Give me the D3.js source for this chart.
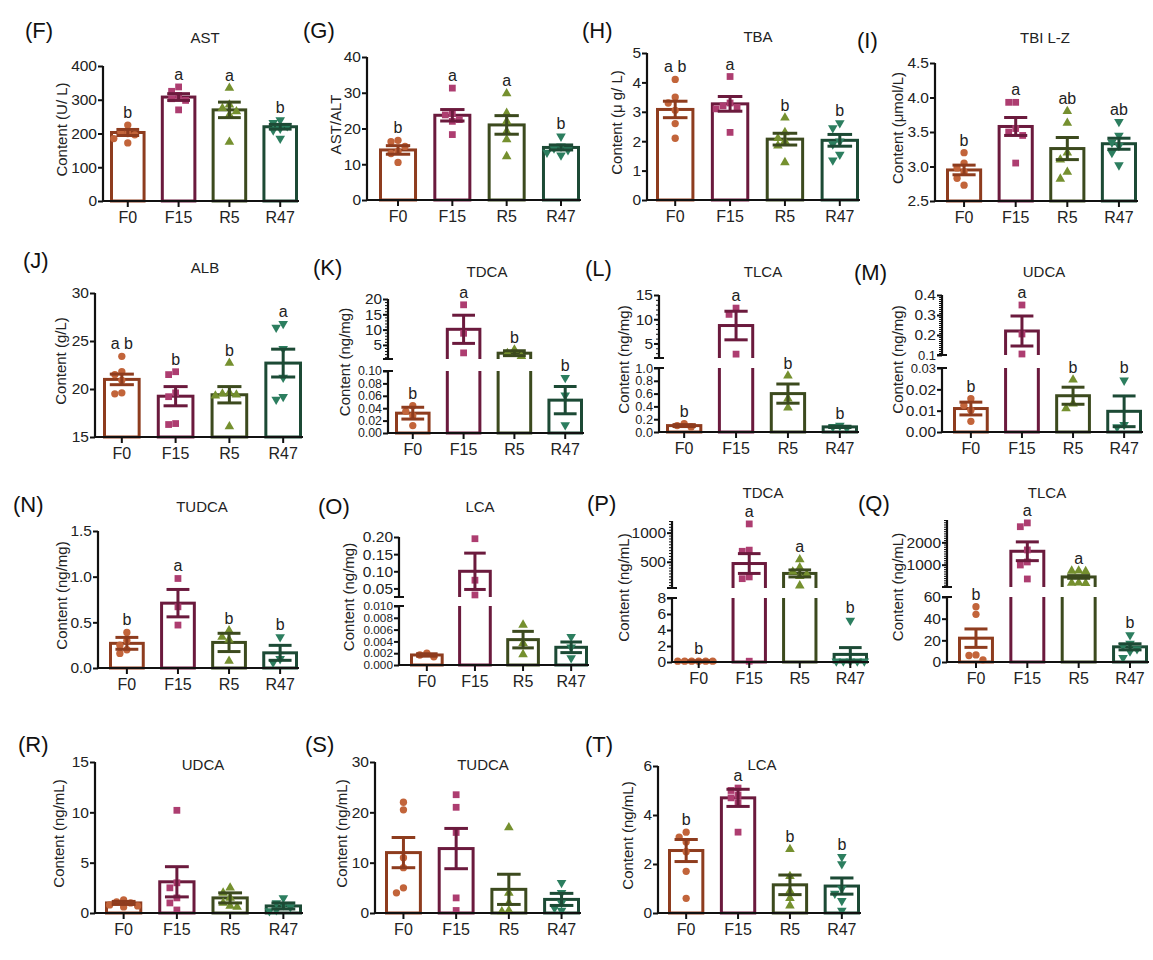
<!DOCTYPE html>
<html><head><meta charset="utf-8">
<script src="https://cdn.jsdelivr.net/npm/d3@7"></script>
<style>body{margin:0;background:#fff}</style>
</head><body><svg id="fig" width="1153" height="960"></svg>
<script>
const groups = ["F0", "F15", "R5", "R47"];

// (F) AST, U/L
const astMean = [203, 308, 270, 220];
const astSem = [9, 10, 23, 7];
const astPts = [[225,205,200,196,185,172],[338,325,313,303,298,270],[335,285,275,265,255,175],[240,232,222,215,210,185]];
const astSig = ["b","a","a","b"];
const astTicks = [0,100,200,300,400];

// (G) AST/ALT
const ratioMean = [14, 23.7, 21, 14.7];
const ratioSem = [1.2, 1.6, 2.6, 0.7];
const ratioPts = [[16.7,16.3,15,13.6,13,10.5],[31.3,24.3,23.8,22.5,22,18.3],[29.8,24.3,22,19.2,16.9,12.2],[17.8,15,14.5,14,13.3,12.5]];
const ratioSig = ["b","a","a","b"];
const ratioTicks = [0,10,20,30,40];

// (H) TBA, µg/L
const tbaMean = [3.08, 3.27, 2.07, 2.03];
const tbaSem = [0.28, 0.25, 0.2, 0.2];
const tbaPts = [[4.1,3.5,3.3,3.05,2.6,2.1],[4.2,3.3,3.2,3.15,3.1,2.3],[2.8,2.3,2.1,2.0,1.85,1.28],[2.62,2.45,2.0,1.9,1.55,1.35]];
const tbaSig = ["a b","a","b","b"];
const tbaTicks = [0,1,2,3,4,5];

// (I) TBIL-Z, µmol/L
const tbilMean = [2.95, 3.58, 3.26, 3.33];
const tbilSem = [0.07, 0.13, 0.16, 0.08];
const tbilPts = [[3.2,3.05,2.98,2.92,2.83,2.73],[3.93,3.93,3.55,3.5,3.45,3.05],[3.8,3.63,3.2,3.1,2.92,2.82],[3.65,3.45,3.35,3.3,3.2,3.02]];
const tbilSig = ["b","a","ab","ab"];
const tbilTicks = [2.5,3.0,3.5,4.0,4.5];

// (J) ALB, g/L
const albMean = [21.0, 19.25, 19.4, 22.7];
const albSem = [0.55, 1.0, 0.85, 1.45];
const albPts = [[23.4,21.8,21.5,20.9,19.6,19.5],[21.8,21.5,19.6,19.2,16.4,16.3],[22.7,19.6,19.5,19.4,19.3,16.1],[26.8,26.4,24.2,21.2,19.2,18.9]];
const albSig = ["a b","b","b","a"];
const albTicks = [15,20,25,30];

// (K) TDCA in tissue, ng/mg
const tdcaTMean = [0.032, 10.1, 2.3, 0.053];
const tdcaTSem = [0.0095, 4.6, 0.8, 0.022];
const tdcaTPts = [[0.044,0.035,0.028,0.012],[18.1,8.8,2.4],[3.4,2.3,1.3],[0.089,0.061,0.013]];
const tdcaTSig = ["b","a","b","b"];
const tdcaTTicksLow = [0,0.02,0.04,0.06,0.08,0.10];
const tdcaTTicksHigh = [5,10,15,20];

// (L) TLCA in tissue, ng/mg
const tlcaTMean = [0.1, 8.7, 0.6, 0.08];
const tlcaTSem = [0.015, 2.95, 0.15, 0.01];
const tlcaTPts = [[0.13,0.1,0.08],[12.3,11.0,2.8],[0.88,0.52,0.38],[0.1,0.08,0.06]];
const tlcaTSig = ["b","a","b","b"];
const tlcaTTicksLow = [0,0.2,0.4,0.6,0.8,1.0];
const tlcaTTicksHigh = [5,10,15];

// (M) UDCA in tissue, ng/mg
const udcaTMean = [0.011, 0.22, 0.017, 0.0097];
const udcaTSem = [0.003, 0.075, 0.004, 0.0072];
const udcaTPts = [[0.0156,0.0125,0.0102,0.005],[0.35,0.205,0.105],[0.0245,0.0133,0.011],[0.0242,0.0034,0.0023]];
const udcaTSig = ["b","a","b","b"];
const udcaTTicksLow = [0,0.01,0.02,0.03];
const udcaTTicksHigh = [0.1,0.2,0.3,0.4];

// (N) TUDCA in tissue, ng/mg
const tudcaTMean = [0.27, 0.71, 0.28, 0.166];
const tudcaTSem = [0.065, 0.15, 0.1, 0.082];
const tudcaTPts = [[0.39,0.3,0.25,0.2,0.16],[0.98,0.67,0.47],[0.41,0.34,0.31,0.077],[0.34,0.1,0.06]];
const tudcaTSig = ["b","a","b","b"];
const tudcaTTicks = [0,0.5,1.0,1.5];

// (O) LCA in tissue, ng/mg
const lcaTMean = [0.0017, 0.1, 0.0043, 0.003];
const lcaTSem = [0.0002, 0.053, 0.0014, 0.0009];
const lcaTPts = [[0.002,0.0017,0.0014],[0.195,0.074,0.031],[0.0068,0.0037,0.0018],[0.0048,0.003,0.0012]];
const lcaTTicksLow = [0,0.002,0.004,0.006,0.008,0.010];
const lcaTTicksHigh = [0.05,0.10,0.15,0.20];

// (P) TDCA in serum, ng/mL
const tdcaSMean = [0.1, 470, 300, 0.95];
const tdcaSSem = [0.02, 170, 60, 0.85];
const tdcaSPts = [[0.1,0.1,0.1,0.1,0.1,0.1],[1150,700,680,240,210,0.1],[540,400,330,280,250,90],[5.2,0.1,0.1,0.1,0.1,0.1]];
const tdcaSSig = ["b","a","a","b"];
const tdcaSTicksLow = [0,2,4,6,8];
const tdcaSTicksHigh = [500,1000];

// (Q) TLCA in serum, ng/mL
const tlcaSMean = [22, 1600, 450, 14];
const tlcaSSem = [8.5, 420, 60, 2.8];
const tlcaSPts = [[51,44,6.5,6,2],[2870,2700,1660,1120,985,360],[730,720,700,190,180,170],[25,17,15,12,10,4]];
const tlcaSSig = ["b","a","a","b"];
const tlcaSTicksLow = [0,20,40,60];
const tlcaSTicksHigh = [1000,2000];

// (R) UDCA in serum, ng/mL
const udcaSMean = [1.0, 3.1, 1.5, 0.7];
const udcaSSem = [0.15, 1.5, 0.5, 0.3];
const udcaSPts = [[1.3,1.1,1.0,0.8,0.7,0.6],[10.2,3.0,2.5,1.5,1.0,0.3],[2.5,2.0,1.5,1.0,0.7,0.6],[1.5,1.0,0.8,0.6,0.3,0.2]];
const udcaSTicks = [0,5,10,15];

// (S) TUDCA in serum, ng/mL
const tudcaSMean = [12, 12.8, 4.7, 2.7];
const tudcaSSem = [3, 4, 3, 1.2];
const tudcaSPts = [[22,20.5,11,9,5,4],[23.5,21,16,3,0.5],[17,4,2,0.5,0.3],[6,4,2,1,0.5]];
const tudcaSTicks = [0,10,20,30];

// (T) LCA in serum, ng/mL
const lcaSMean = [2.55, 4.7, 1.15, 1.1];
const lcaSSem = [0.45, 0.35, 0.4, 0.33];
const lcaSPts = [[3.3,3.1,2.9,2.5,1.7,0.6],[5.1,5.0,4.8,4.7,4.5,3.3],[2.6,1.5,0.9,0.6,0.3],[2.3,2.0,1.0,0.8,0.5,0.1]];
const lcaSSig = ["b","a","b","b"];
const lcaSTicks = [0,2,4,6];

// ---- styling ----
const FONT = "Arial, 'Liberation Sans', sans-serif";
const lineCol = ["#8e3c1e", "#6b1a3d", "#3c4a1e", "#1c4a35"];
const dotCol = ["#c2643a", "#ad3d70", "#75902f", "#2c7e5f"];
const symbols = [
  d3.symbol().type(d3.symbolCircle).size(42)(),
  d3.symbol().type(d3.symbolSquare).size(46)(),
  d3.symbol().type(d3.symbolTriangle).size(40)(),
  d3.symbol().type(d3.symbolTriangle).size(40)()
];

// panel layout: axis position, bar span, label offsets, segments (bottom first)
const panels = [
  { tag:"(F)", tagXY:[25,38], title:"AST", titleXY:[205,43], ylab:"Content (U/ L)", lab:41,
    mean:astMean, sem:astSem, pts:astPts, sig:astSig, ax:103, x0:110, x1:298,
    segs:[{dom:[0,400], rng:[201,66], ticks:astTicks, fmt:"d"}] },
  { tag:"(G)", tagXY:[303,38], title:"", titleXY:[0,0], ylab:"AST/ALT", lab:31,
    mean:ratioMean, sem:ratioSem, pts:ratioPts, sig:ratioSig, ax:367, x0:379, x1:580,
    segs:[{dom:[0,40], rng:[200,57], ticks:ratioTicks, fmt:"d"}] },
  { tag:"(H)", tagXY:[582,38], title:"TBA", titleXY:[758,42], ylab:"Content (\u03bc g/ L)", lab:30,
    mean:tbaMean, sem:tbaSem, pts:tbaPts, sig:tbaSig, ax:647, x0:656, x1:859,
    segs:[{dom:[0,5], rng:[200,53], ticks:tbaTicks, fmt:"d"}] },
  { tag:"(I)", tagXY:[857,48], title:"TBI L-Z", titleXY:[1045,43], ylab:"Content (\u03bcmol/L)", lab:37,
    mean:tbilMean, sem:tbilSem, pts:tbilPts, sig:tbilSig, ax:935, x0:946, x1:1137,
    segs:[{dom:[2.5,4.5], rng:[201,63], ticks:tbilTicks, fmt:".1f"}] },
  { tag:"(J)", tagXY:[23,268], title:"ALB", titleXY:[205,273], ylab:"Content (g/L)", lab:34,
    mean:albMean, sem:albSem, pts:albPts, sig:albSig, ax:95, x0:103, x1:302,
    segs:[{dom:[15,30], rng:[437,293], ticks:albTicks, fmt:"d"}] },
  { tag:"(K)", tagXY:[313,275], title:"TDCA", titleXY:[487,277], ylab:"Content (ng/mg)", lab:43,
    mean:tdcaTMean, sem:tdcaTSem, pts:tdcaTPts, sig:tdcaTSig, ax:388, x0:395, x1:583,
    segs:[{dom:[0,0.1], rng:[433,371], ticks:tdcaTTicksLow, fmt:".2f"},
          {dom:[0.4,20], rng:[359,299], ticks:tdcaTTicksHigh, fmt:"d", minor:1}] },
  { tag:"(L)", tagXY:[585,276], title:"TLCA", titleXY:[763,277], ylab:"Content (ng/mg)", lab:35,
    mean:tlcaTMean, sem:tlcaTSem, pts:tlcaTPts, sig:tlcaTSig, ax:659, x0:666, x1:858,
    segs:[{dom:[0,1], rng:[432,368], ticks:tlcaTTicksLow, fmt:".1f"},
          {dom:[2,15], rng:[358,295], ticks:tlcaTTicksHigh, fmt:"d", minor:1}] },
  { tag:"(M)", tagXY:[854,280], title:"UDCA", titleXY:[1044,277], ylab:"Content (ng/mg)", lab:44,
    mean:udcaTMean, sem:udcaTSem, pts:udcaTPts, sig:udcaTSig, ax:942, x0:953, x1:1142,
    segs:[{dom:[0,0.03], rng:[432,368], ticks:udcaTTicksLow, fmt:".2f"},
          {dom:[0.1,0.4], rng:[355,295], ticks:udcaTTicksHigh, fmt:".1f", minor:0.01}] },
  { tag:"(N)", tagXY:[13,512], title:"TUDCA", titleXY:[202,512], ylab:"Content (ng/mg)", lab:36,
    mean:tudcaTMean, sem:tudcaTSem, pts:tudcaTPts, sig:tudcaTSig, ax:98, x0:109, x1:298,
    segs:[{dom:[0,1.5], rng:[668,531], ticks:tudcaTTicks, fmt:".1f"}] },
  { tag:"(O)", tagXY:[318,514], title:"LCA", titleXY:[480,512], ylab:"Content (ng/mg)", lab:50,
    mean:lcaTMean, sem:lcaTSem, pts:lcaTPts, sig:null, ax:399, x0:410, x1:588,
    segs:[{dom:[0,0.01], rng:[665,606], ticks:lcaTTicksLow, fmt:".3f"},
          {dom:[0.025,0.2], rng:[597,537], ticks:lcaTTicksHigh, fmt:".2f"}] },
  { tag:"(P)", tagXY:[587,511], title:"TDCA", titleXY:[763,498], ylab:"Content (ng/mL)", lab:48,
    mean:tdcaSMean, sem:tdcaSSem, pts:tdcaSPts, sig:tdcaSSig, ax:672, x0:681, x1:868,
    segs:[{dom:[0,8], rng:[662,598], ticks:tdcaSTicksLow, fmt:"d"},
          {dom:[50,1200], rng:[588,521], ticks:tdcaSTicksHigh, fmt:"d", minor:50}] },
  { tag:"(Q)", tagXY:[858,511], title:"TLCA", titleXY:[1047,498], ylab:"Content (ng/mL)", lab:49,
    mean:tlcaSMean, sem:tlcaSSem, pts:tlcaSPts, sig:tlcaSSig, ax:947, x0:958, x1:1148,
    segs:[{dom:[0,60], rng:[662,597], ticks:tlcaSTicksLow, fmt:"d"},
          {dom:[0,3000], rng:[587,520], ticks:tlcaSTicksHigh, fmt:"d", minor:100}] },
  { tag:"(R)", tagXY:[18,752], title:"UDCA", titleXY:[203,770], ylab:"Content (ng/mL)", lab:36,
    mean:udcaSMean, sem:udcaSSem, pts:udcaSPts, sig:null, ax:95, x0:105, x1:302,
    segs:[{dom:[0,15], rng:[913,762], ticks:udcaSTicks, fmt:"d"}] },
  { tag:"(S)", tagXY:[305,752], title:"TUDCA", titleXY:[483,770], ylab:"Content (ng/mL)", lab:33,
    mean:tudcaSMean, sem:tudcaSSem, pts:tudcaSPts, sig:null, ax:375, x0:385, x1:580,
    segs:[{dom:[0,30], rng:[913,762], ticks:tudcaSTicks, fmt:"d"}] },
  { tag:"(T)", tagXY:[585,752], title:"LCA", titleXY:[762,770], ylab:"Content (ng/mL)", lab:30,
    mean:lcaSMean, sem:lcaSSem, pts:lcaSPts, sig:lcaSSig, ax:658, x0:668, x1:860,
    segs:[{dom:[0,6], rng:[913,766], ticks:lcaSTicks, fmt:"d"}] }
];

const svg = d3.select("#fig");
let clipCount = 0;

// spread overlapping markers sideways, keeping each group centred
function swarm(ys, d) {
  const order = ys.map((y, i) => i).sort((a, b) => ys[a] - ys[b]);
  const placed = [], off = new Array(ys.length).fill(0);
  for (const i of order) {
    for (let k = 0; k < 30; k++) {
      const dx = k === 0 ? 0 : (k % 2 ? -1 : 1) * Math.ceil(k / 2) * d;
      if (placed.every(p => Math.hypot(p.x - dx, p.y - ys[i]) >= d)) {
        off[i] = dx; placed.push({x: dx, y: ys[i]}); break;
      }
    }
  }
  return off;
}

function drawPanel(p) {
  const g = svg.append("g");
  const x = d3.scaleBand().domain(groups).range([p.x0, p.x1]).paddingInner(0.3).paddingOuter(0);
  const bw = x.bandwidth();
  const cap = bw * 0.32;
  const segs = p.segs.map(s => Object.assign({}, s, {y: d3.scaleLinear().domain(s.dom).range(s.rng)}));
  const nS = segs.length;
  const base = segs[0].rng[0];
  const segOf = v => segs.find(s => v <= s.dom[1]) || segs[nS - 1];
  const cx = gr => x(gr) + bw / 2;

  segs.forEach((s, i) => {
    s.clip = "seg" + (clipCount++);
    const top = i === nS - 1 ? s.rng[1] - 40 : s.rng[1];
    const bot = i === 0 ? s.rng[0] + 3 : s.rng[0];
    svg.append("clipPath").attr("id", s.clip).append("rect")
      .attr("x", p.ax + 1).attr("y", top).attr("width", p.x1 - p.ax + 12).attr("height", bot - top);
  });

  // bars (open-ended where they cross an axis break)
  segs.forEach((s, i) => {
    const layer = g.append("g").attr("clip-path", `url(#${s.clip})`);
    groups.forEach((gr, j) => {
      const m = p.mean[j];
      if (i > 0 && m <= segs[i - 1].dom[1]) return;
      const yTop = m > s.dom[1] ? s.rng[1] - 10 : s.y(m);
      const yBot = i === 0 ? s.y(s.dom[0]) : s.rng[0] + 10;
      layer.append("rect").attr("x", x(gr) + 1.5).attr("width", bw - 3)
        .attr("y", yTop).attr("height", Math.max(0.5, yBot - yTop))
        .attr("fill", "#fff").attr("stroke", lineCol[j]).attr("stroke-width", 3);
    });
  });

  // individual values
  groups.forEach((gr, j) => {
    const ys = p.pts[j].map(v => segOf(v).y(v));
    const offs = swarm(ys, 7);
    ys.forEach((yy, k) => {
      g.append("path").attr("d", symbols[j])
        .attr("transform", `translate(${cx(gr) + offs[k]},${yy})` + (j === 3 ? " rotate(180)" : ""))
        .attr("fill", dotCol[j]);
    });
  });

  // mean ± SEM
  groups.forEach((gr, j) => {
    const m = p.mean[j], e = p.sem[j], s = segOf(m);
    const c = cx(gr);
    const lay = g.append("g").attr("clip-path", `url(#${s.clip})`)
      .attr("stroke", lineCol[j]).attr("stroke-width", 3);
    const y1 = s.y(m - e), y2 = s.y(m + e);
    lay.append("line").attr("x1", c).attr("x2", c).attr("y1", y1).attr("y2", y2);
    [y1, y2].forEach(yy => lay.append("line").attr("x1", c - cap).attr("x2", c + cap).attr("y1", yy).attr("y2", yy));
  });

  // significance letters
  if (p.sig) groups.forEach((gr, j) => {
    const ys = p.pts[j].map(v => segOf(v).y(v));
    const s = segOf(p.mean[j]);
    const top = Math.min(...ys, s.y(p.mean[j] + p.sem[j]));
    g.append("text").attr("x", cx(gr)).attr("y", top - 7).attr("text-anchor", "middle")
      .attr("font-family", FONT).attr("font-size", 16).attr("fill", "#222").text(p.sig[j]);
  });

  // y axis segments; each tick label is sized to the room left by its neighbours
  const allTickY = [];
  segs.forEach(s => s.ticks.forEach(t => allTickY.push(s.y(t))));
  segs.forEach((s, i) => {
    const axG = g.append("g").attr("transform", `translate(${p.ax},0)`);
    axG.call(d3.axisLeft(s.y).tickValues(s.ticks).tickFormat(d3.format(s.fmt)).tickSize(5).tickPadding(1));
    axG.select(".domain").remove();
    axG.selectAll(".tick line").attr("stroke", "#111").attr("stroke-width", 2);
    axG.selectAll(".tick text").attr("font-family", FONT).attr("fill", "#222")
      .attr("font-size", t => {
        const yy = s.y(t);
        const room = d3.min(allTickY.filter(v => Math.abs(v - yy) > 0.5), v => Math.abs(v - yy));
        return Math.min(15.5, room);
      });
    if (s.minor) {
      const st = s.minor;
      const vals = d3.range(Math.ceil(s.dom[0] / st - 1e-9) * st, s.dom[1] + st / 2, st);
      const mG = g.append("g").attr("transform", `translate(${p.ax},0)`);
      mG.call(d3.axisLeft(s.y).tickValues(vals).tickFormat("").tickSize(3));
      mG.select(".domain").remove();
      mG.selectAll(".tick line").attr("stroke", "#111").attr("stroke-width", 1);
    }
    g.append("line").attr("x1", p.ax).attr("x2", p.ax)
      .attr("y1", s.rng[0] + (i === 0 ? 1 : 0)).attr("y2", s.rng[1])
      .attr("stroke", "#111").attr("stroke-width", 2.2);
    if (nS > 1) {
      const marks = [];
      if (i > 0) marks.push(s.rng[0]);
      if (i < nS - 1) marks.push(s.rng[1]);
      marks.forEach(yy => g.append("line").attr("x1", p.ax - 5).attr("x2", p.ax + 5)
        .attr("y1", yy).attr("y2", yy).attr("stroke", "#111").attr("stroke-width", 2));
    }
  });

  // x axis
  g.append("line").attr("x1", p.ax - 1).attr("x2", p.x1 + 1).attr("y1", base).attr("y2", base)
    .attr("stroke", "#111").attr("stroke-width", 2.2);
  const xa = g.append("g").attr("transform", `translate(0,${base})`);
  xa.call(d3.axisBottom(x).tickSize(6).tickSizeOuter(0).tickPadding(5));
  xa.select(".domain").remove();
  xa.selectAll(".tick line").attr("stroke", "#111").attr("stroke-width", 2);
  xa.selectAll(".tick text").attr("font-size", 16).attr("font-family", FONT).attr("fill", "#222");

  // labels
  const yMid = (base + segs[nS - 1].rng[1]) / 2 - 4;
  g.append("text").attr("transform", `translate(${p.ax - p.lab},${yMid}) rotate(-90)`)
    .attr("text-anchor", "middle").attr("dy", "0.35em")
    .attr("font-family", FONT).attr("font-size", 15).attr("fill", "#222").text(p.ylab);
  g.append("text").attr("x", p.tagXY[0]).attr("y", p.tagXY[1])
    .attr("font-family", FONT).attr("font-size", 22).attr("fill", "#111").text(p.tag);
  if (p.title) g.append("text").attr("x", p.titleXY[0]).attr("y", p.titleXY[1]).attr("text-anchor", "middle")
    .attr("font-family", FONT).attr("font-size", 15).attr("fill", "#222").text(p.title);
}

panels.forEach(drawPanel);
</script></body></html>
